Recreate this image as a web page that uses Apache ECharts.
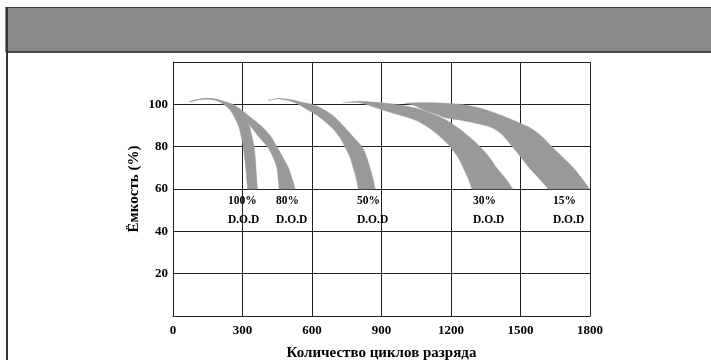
<!DOCTYPE html>
<html><head><meta charset="utf-8">
<script src="https://cdn.jsdelivr.net/npm/echarts/dist/echarts.min.js"></script>
<style>html,body{margin:0;padding:0;background:#fff}#c{width:711px;height:360px}</style>
</head><body><div id="c"></div>
<script>
// Axis ranges / ticks
const xMin = 0, xMax = 1800, xStep = 300;
const yMin = 0, yMax = 120, yStep = 20;
const yLabelValues = [20, 40, 60, 80, 100];

// Depth of discharge labels
const dodNames = ['100%', '80%', '50%', '30%', '15%'];
const dodLabelCycles = [237, 445, 794, 1295, 1640];
const dodPctLevel = 54.5;
const dodTextLevel = 45.3;

// Band edges: [cycles, capacity %]
const inner100 = [[72,101.2],[105,102.1],[140,102.5],[175,102.2],[200,101.2],[220,99.9],[250,96.8],[282,90],[294,85],[303,80],[309,75],[314,70],[318,65],[322,60]];
const outer100 = [[72,101.2],[105,102.2],[140,102.7],[175,102.5],[205,101.8],[240,100],[285,96],[325,91],[340,85],[350,80],[355,75],[358,70],[361,65],[364,60]];

const inner80 = [[72,101.2],[105,102.1],[140,102.5],[175,102.2],[205,101.3],[240,99.8],[285,95.5],[325,91],[368,85],[407,80],[432,75],[448,70],[454,65],[458,60]];
const outer80 = [[72,101.2],[105,102.2],[140,102.7],[175,102.6],[215,101.5],[258,100],[292,97.6],[322,95],[356,92],[390,88.8],[422,84.8],[448,80],[474,75],[498,70],[514,65],[527,60]];

const inner50 = [[411,101.9],[440,102.4],[462,102.5],[505,101.6],[541,100],[580,97.5],[632,94],[685,89],[716,85],[742,80],[764,75],[778,70],[791,65],[800,60]];
const outer50 = [[411,101.9],[440,102.5],[462,102.7],[510,102.2],[555,101],[599,100],[642,98],[692,94.5],[742,89],[783,84],[815,80],[836,75],[850,70],[863,65],[872,60]];

const inner30 = [[735,100.8],[800,100.9],[860,99],[900,97.6],[960,95.5],[1036,93],[1094,89.7],[1150,85],[1196,80],[1230,75],[1253,70],[1274,65],[1290,60]];
const outer30 = [[735,100.8],[800,101.4],[870,101],[940,100.3],[1000,99.3],[1060,97.8],[1120,95.5],[1180,92.5],[1235,88.5],[1280,84.5],[1325,80],[1365,75],[1397,70],[1435,65],[1466,60]];

const inner15 = [[1000,100.5],[1040,99.5],[1080,97.5],[1130,95.6],[1180,93.6],[1238,92.6],[1310,91],[1376,89],[1422,85.5],[1465,80],[1502,75],[1538,70],[1580,65],[1620,60]];
const outer15 = [[1000,100.5],[1080,100.8],[1160,100.6],[1240,100],[1310,98.6],[1380,96.3],[1450,93.3],[1510,90.5],[1548,88.5],[1595,84.5],[1635,80],[1682,75],[1728,70],[1765,65],[1797,60]];

const bands = [
  [inner100, outer100], [inner80, outer80], [inner50, outer50], [inner30, outer30], [inner15, outer15]
];

const FONT = 'Liberation Serif, Times New Roman, serif';
const chart = echarts.init(document.getElementById('c'), null, {renderer: 'canvas'});

// Smooth drawing of an edge through its pixel points (Catmull-Rom, drawing only)
function smoothPixels(pts) {
  const out = [];
  const n = pts.length;
  for (let i = 0; i < n - 1; i++) {
    const p0 = pts[Math.max(0, i - 1)], p1 = pts[i], p2 = pts[i + 1], p3 = pts[Math.min(n - 1, i + 2)];
    const steps = 8;
    for (let s = 0; s < steps; s++) {
      const t = s / steps, t2 = t * t, t3 = t2 * t;
      const f = function (a, b, c, d) {
        return 0.5 * ((2 * b) + (-a + c) * t + (2 * a - 5 * b + 4 * c - d) * t2 + (-a + 3 * b - 3 * c + d) * t3);
      };
      out.push([f(p0[0], p1[0], p2[0], p3[0]), f(p0[1], p1[1], p2[1], p3[1])]);
    }
  }
  out.push(pts[n - 1]);
  return out;
}

const bandSeries = bands.map(function (b) {
  return {
    type: 'custom',
    coordinateSystem: 'cartesian2d',
    silent: true,
    data: [[0, 0]],
    renderItem: function (params, api) {
      const a = smoothPixels(b[0].map(function (p) { return api.coord(p); }));
      const c = smoothPixels(b[1].map(function (p) { return api.coord(p); }));
      const pts = a.concat(c.reverse());
      return {
        type: 'polygon',
        shape: {points: pts},
        style: {fill: '#999999', stroke: '#999999', lineWidth: 0.5}
      };
    },
    z: 3
  };
});

function labelSeries(level, texts, size) {
  return {
    type: 'scatter',
    silent: true,
    symbolSize: 0,
    itemStyle: {opacity: 1, color: 'rgba(0,0,0,0)'},
    data: dodLabelCycles.map(function (c, i) { return [c, level, texts[i]]; }),
    label: {
      show: true,
      position: [0, 0],
      align: 'left',
      verticalAlign: 'middle',
      formatter: function (p) { return p.data[2]; },
      color: '#000',
      opacity: 1,
      fontFamily: FONT,
      fontWeight: 'bold',
      fontSize: size
    },
    z: 5
  };
}

const option = {
  animation: false,
  backgroundColor: '#fff',
  graphic: [
    {type: 'rect', shape: {x: 6, y: 7.5, width: 720, height: 44.5}, style: {fill: '#898989', stroke: '#3c3c3c', lineWidth: 1.2}, z: 10},
    {type: 'line', shape: {x1: 6, y1: 52, x2: 711, y2: 52}, style: {stroke: '#333', lineWidth: 1.6}, z: 11},
    {type: 'line', shape: {x1: 7, y1: 7, x2: 7, y2: 360}, style: {stroke: '#333', lineWidth: 2}, z: 11}
  ],
  grid: {left: 173, top: 62, width: 417, height: 254, containLabel: false, outerBoundsMode: 'none'},
  xAxis: {
    type: 'value', min: xMin, max: xMax, interval: xStep,
    name: 'Количество циклов разряда',
    nameLocation: 'middle', nameGap: 30, nameMoveOverlap: false,
    nameTextStyle: {fontFamily: FONT, fontWeight: 'bold', fontSize: 15, color: '#000'},
    axisLine: {show: true, lineStyle: {color: '#222', width: 1}},
    axisTick: {show: false},
    axisLabel: {margin: 8, fontFamily: FONT, fontWeight: 'bold', fontSize: 13, color: '#000',
      formatter: function (v) { return String(v); }},
    splitLine: {show: true, lineStyle: {color: '#222', width: 1}}
  },
  yAxis: {
    type: 'value', min: yMin, max: yMax, interval: yStep,
    name: 'Ёмкость (%)',
    nameLocation: 'middle', nameGap: 31, nameMoveOverlap: false,
    nameTextStyle: {fontFamily: FONT, fontWeight: 'bold', fontSize: 15, color: '#000'},
    axisLine: {show: true, lineStyle: {color: '#222', width: 1}},
    axisTick: {show: false},
    axisLabel: {
      margin: 5, fontFamily: FONT, fontWeight: 'bold', fontSize: 13, color: '#000',
      formatter: function (v) { return yLabelValues.indexOf(v) >= 0 ? String(v) : ''; }
    },
    splitLine: {show: true, lineStyle: {color: '#222', width: 1}}
  },
  series: bandSeries.concat([
    labelSeries(dodPctLevel, dodNames, 11.5),
    labelSeries(dodTextLevel, dodNames.map(function () { return 'D.O.D'; }), 11.5)
  ])
};
chart.setOption(option);
</script>
</body></html>
